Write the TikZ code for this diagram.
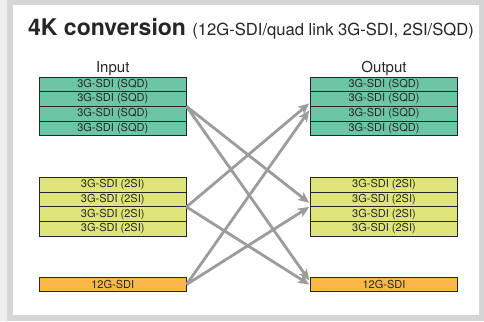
\documentclass[tikz,border=0pt]{standalone}
\usepackage{fontspec}
\setmainfont{TeX Gyre Heros}
\usepackage{tikz}
\usetikzlibrary{positioning}
\usetikzlibrary{arrows.meta}
\definecolor{sqdgreen}{RGB}{108,198,166}
\definecolor{sigreen}{RGB}{224,229,122}
\definecolor{hgorange}{RGB}{251,184,74}
\definecolor{arrowgray}{RGB}{155,156,158}
\definecolor{framegray}{RGB}{214,214,214}
\definecolor{outergray}{RGB}{238,238,238}
\definecolor{textgray}{RGB}{38,38,38}
\tikzstyle{every node}=[font=\fontsize{11}{13}\selectfont, text=textgray]
\tikzstyle{row}=[draw=textgray, line width=0.9pt, minimum width=147.5pt, minimum height=14.7pt, inner sep=0pt, outer sep=0pt]
\tikzstyle{sqd}=[row, fill=sqdgreen]
\tikzstyle{twosi}=[row, fill=sigreen]
\tikzstyle{twelveg}=[row, fill=hgorange]
\tikzstyle{side}=[font=\fontsize{15}{18}\selectfont, inner sep=0pt, anchor=base]
\tikzstyle{link}=[-{Stealth[length=11pt,width=9.5pt,inset=2.5pt]}, line width=2.8pt, draw=arrowgray]

\begin{document}
\begin{tikzpicture}[x=1pt, y=-1pt]
        \useasboundingbox (0, 0) rectangle (484, 321);
        \fill [outergray] (0, 0) rectangle (484, 321);
        \fill [framegray] (7, 0) rectangle (484, 321);
        \fill [white] (13, 5) rectangle (479, 315);

        \node [anchor=base west, inner sep=0pt, text=black!85] (title) at (28, 36)
            {\fontsize{23}{27}\selectfont\bfseries 4K conversion \fontsize{16.6}{19}\mdseries\selectfont(12G-SDI/quad link 3G-SDI, 2SI/SQD)};

        % input side
        \node [sqd] (sqdin1) at (112.75, 84.35) {3G-SDI (SQD)};
        \node [sqd, below=0pt of sqdin1] (sqdin2) {3G-SDI (SQD)};
        \node [sqd, below=0pt of sqdin2] (sqdin3) {3G-SDI (SQD)};
        \node [sqd, below=0pt of sqdin3] (sqdin4) {3G-SDI (SQD)};

        \node [twosi] (siin1) at (112.75, 184.85) {3G-SDI (2SI)};
        \node [twosi, below=0pt of siin1] (siin2) {3G-SDI (2SI)};
        \node [twosi, below=0pt of siin2] (siin3) {3G-SDI (2SI)};
        \node [twosi, below=0pt of siin3] (siin4) {3G-SDI (2SI)};

        \node [twelveg] (hgin) at (112.75, 284.5) {12G-SDI};

        \node [side] (inlabel) at ([yshift=4pt]sqdin1.north) {Input};

        % output side
        \node [sqd] (sqdout1) at (384, 84.35) {3G-SDI (SQD)};
        \node [sqd, below=0pt of sqdout1] (sqdout2) {3G-SDI (SQD)};
        \node [sqd, below=0pt of sqdout2] (sqdout3) {3G-SDI (SQD)};
        \node [sqd, below=0pt of sqdout3] (sqdout4) {3G-SDI (SQD)};

        \node [twosi] (siout1) at (384, 184.85) {3G-SDI (2SI)};
        \node [twosi, below=0pt of siout1] (siout2) {3G-SDI (2SI)};
        \node [twosi, below=0pt of siout2] (siout3) {3G-SDI (2SI)};
        \node [twosi, below=0pt of siout3] (siout4) {3G-SDI (2SI)};

        \node [twelveg] (hgout) at (384, 284.5) {12G-SDI};

        \node [side] (outlabel) at ([yshift=4pt]sqdout1.north) {Output};

        % conversions
        \draw [link] (sqdin3.north east) -- ([xshift=-1pt, yshift=4pt]siout3.north west);
        \draw [link] (sqdin3.north east) -- ([xshift=-1pt, yshift=4pt]hgout.west);
        \draw [link] (siin3.north east) -- ([xshift=-1pt, yshift=3pt]sqdout3.north west);
        \draw [link] (siin3.north east) -- ([xshift=-1pt]hgout.west);
        \draw [link] (hgin.east) -- ([xshift=-1pt, yshift=-4pt]sqdout3.north west);
        \draw [link] (hgin.east) -- ([xshift=-1pt]siout3.north west);
\end{tikzpicture}
\end{document}
